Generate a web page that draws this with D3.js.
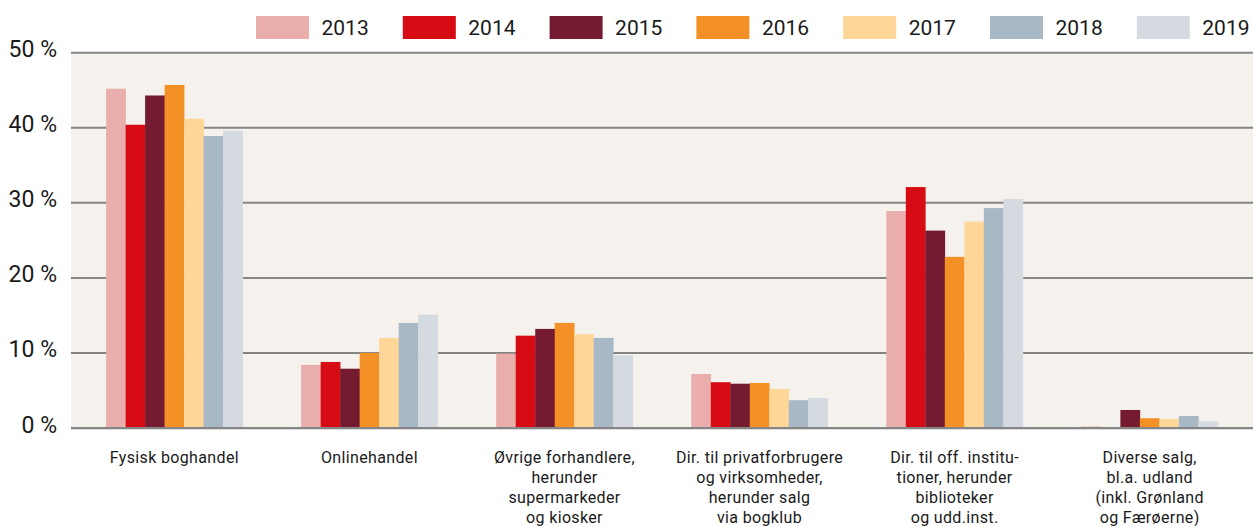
<!DOCTYPE html>
<html>
<head>
<meta charset="utf-8">
<script src="https://cdn.jsdelivr.net/npm/d3@7"></script>
<style>
  html, body { margin: 0; padding: 0; background: #ffffff; }
  svg { display: block; }
  text { font-family: Roboto, "Open Sans", sans-serif; fill: #1a1a1a; }
</style>
</head>
<body>
<svg id="chart" width="1253" height="526"></svg>
<script>
const categories = [
  ["Fysisk boghandel"],
  ["Onlinehandel"],
  ["Øvrige forhandlere,", "herunder", "supermarkeder", "og kiosker"],
  ["Dir. til privatforbrugere", "og virksomheder,", "herunder salg", "via bogklub"],
  ["Dir. til off. institu-", "tioner, herunder", "biblioteker", "og udd.inst."],
  ["Diverse salg,", "bl.a. udland", "(inkl. Grønland", "og Færøerne)"]
];
const years = ["2013", "2014", "2015", "2016", "2017", "2018", "2019"];
const colors = ["#e9aeac", "#d70b13", "#741b32", "#f39126", "#fdd698", "#a8b8c4", "#d5d9e0"];
const v2013 = [45.2, 8.4, 9.9, 7.2, 28.9, 0.2];
const v2014 = [40.4, 8.8, 12.3, 6.1, 32.1, 0.0];
const v2015 = [44.3, 7.9, 13.2, 5.9, 26.3, 2.4];
const v2016 = [45.7, 10.0, 14.0, 6.0, 22.8, 1.3];
const v2017 = [41.2, 12.0, 12.5, 5.2, 27.5, 1.2];
const v2018 = [38.9, 14.0, 12.0, 3.7, 29.3, 1.6];
const v2019 = [39.6, 15.1, 9.7, 4.0, 30.5, 0.9];
const series = [v2013, v2014, v2015, v2016, v2017, v2018, v2019];
const yTicks = [0, 10, 20, 30, 40, 50];
const yTickLabels = ["0 %", "10 %", "20 %", "30 %", "40 %", "50 %"];

const svg = d3.select("#chart");
const mLeft = 71, mRight = 1253, mTop = 52.7, mBottom = 428;

const x0 = d3.scaleBand().domain(d3.range(categories.length)).range([mLeft, mRight])
  .paddingInner(0.3).paddingOuter(0.18);
const x1 = d3.scaleBand().domain(years).range([0, x0.bandwidth()]).padding(0);
const y = d3.scaleLinear().domain([0, 50]).range([mBottom, mTop]);
const color = d3.scaleOrdinal().domain(years).range(colors);

// plot background
svg.append("rect").attr("x", mLeft).attr("y", y(50)).attr("width", mRight - mLeft)
  .attr("height", y(0) - y(50)).attr("fill", "#f5f2ee");

// gridlines
svg.append("g").selectAll("line").data(yTicks.filter(d => d > 0)).join("line")
  .attr("x1", mLeft).attr("x2", mRight)
  .attr("y1", d => y(d)).attr("y2", d => y(d))
  .attr("stroke", "#858585").attr("stroke-width", 2);

// bars
const groups = svg.append("g").selectAll("g").data(categories).join("g")
  .attr("transform", (d, i) => `translate(${x0(i)},0)`);
groups.selectAll("rect")
  .data((d, i) => years.map((yr, k) => ({ yr, v: series[k][i] })))
  .join("rect")
  .attr("x", d => x1(d.yr))
  .attr("width", x1.bandwidth() + 0.3)
  .attr("y", d => y(d.v))
  .attr("height", d => y(0) - y(d.v))
  .attr("fill", d => color(d.yr));

// baseline
svg.append("line").attr("x1", mLeft).attr("x2", mRight)
  .attr("y1", y(0) + 1.5).attr("y2", y(0) + 1.5)
  .attr("stroke", "#dcdcdc").attr("stroke-width", 1);
svg.append("line").attr("x1", mLeft).attr("x2", mRight)
  .attr("y1", y(0)).attr("y2", y(0))
  .attr("stroke", "#858585").attr("stroke-width", 2);

// y axis labels
svg.append("g").selectAll("text").data(yTicks).join("text")
  .attr("x", 57).attr("y", d => y(d) + 4.5)
  .attr("text-anchor", "end")
  .attr("font-size", "23px")
  .text((d, i) => yTickLabels[i]);

// x labels
const xl = svg.append("g").selectAll("text").data(categories).join("text")
  .attr("text-anchor", "middle")
  .attr("font-size", "16px")
  .attr("letter-spacing", "0.35px")
  .attr("transform", (d, i) => `translate(${x0(i) + x0.bandwidth() / 2},463)`);
xl.selectAll("tspan").data(d => d).join("tspan")
  .attr("x", 0).attr("y", (d, i) => i * 20)
  .text(d => d);

// legend
const leg = svg.append("g").selectAll("g").data(years).join("g")
  .attr("transform", (d, i) => `translate(${256 + i * 146.8},16)`);
leg.append("rect").attr("width", 53).attr("height", 23).attr("fill", d => color(d));
leg.append("text").attr("x", 65.5).attr("y", 19).attr("font-size", "21px").text(d => d);
</script>
</body>
</html>
